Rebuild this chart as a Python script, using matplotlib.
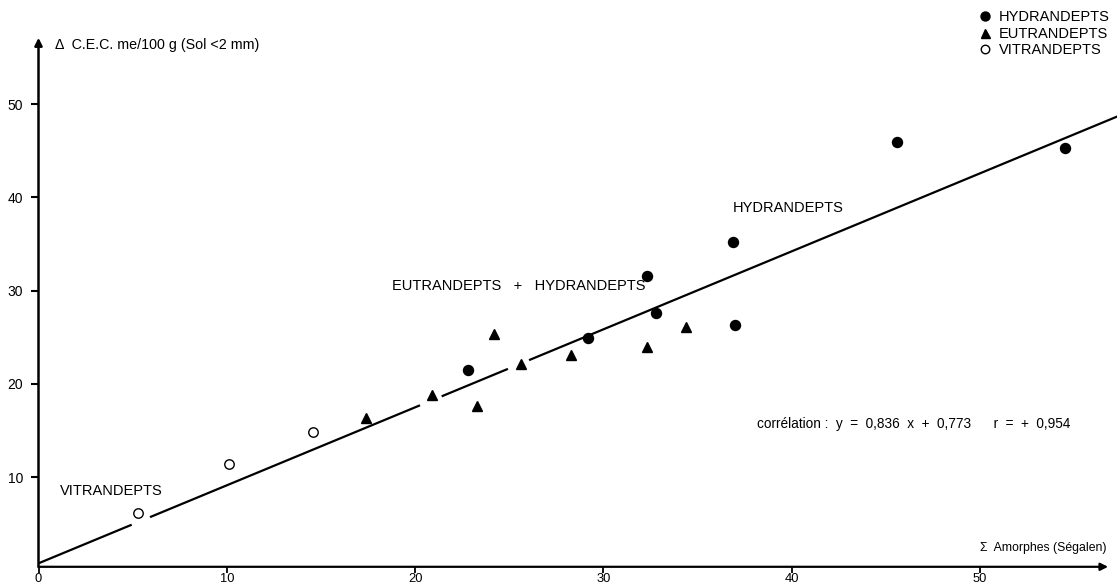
import matplotlib
matplotlib.use("Agg")
import matplotlib.pyplot as plt
import numpy as np

# Sum of amorphous constituents (Ségalen) vs. delta C.E.C. (me/100 g)
hydr_x = [22.8, 29.2, 32.3, 32.8, 36.9, 37.0, 45.6, 54.5]
hydr_y = [21.5, 24.9, 31.6, 27.6, 35.2, 26.3, 45.9, 45.3]

eutr_x = [17.4, 20.9, 23.3, 24.2, 25.6, 28.3, 32.3, 34.4]
eutr_y = [16.3, 18.8, 17.6, 25.4, 22.1, 23.1, 24.0, 26.1]

vitr_x = [5.3, 10.1, 14.6]
vitr_y = [6.2, 11.4, 14.8]

# regression y = a x + b
slope = 0.836
intercept = 0.773
r_value = 0.954

x_ticks = [0, 10, 20, 30, 40, 50]
y_ticks = [10, 20, 30, 40, 50]

# printed breaks in the regression line (x ranges)
line_breaks = [(4.95, 5.92), (20.26, 21.41), (24.93, 26.05)]

FONT = "Liberation Sans"
plt.rcParams["font.family"] = [FONT, "DejaVu Sans"]

fig = plt.figure(figsize=(11.17, 5.85), dpi=100)
ax = fig.add_axes([38.5 / 1117, 18.2 / 585, 1079 / 1117, 529 / 585])
ax.set_xlim(0, 57.3)
ax.set_ylim(0.4, 57.1)

for s in ax.spines.values():
    s.set_visible(False)

# axes drawn as arrows
ax.annotate("", xy=(56.8, 0.4), xytext=(0, 0.4),
            arrowprops=dict(arrowstyle="-|>", lw=1.6, color="black",
                            mutation_scale=11, shrinkA=0, shrinkB=0),
            annotation_clip=False)
ax.annotate("", xy=(0, 57.1), xytext=(0, 0.4),
            arrowprops=dict(arrowstyle="-|>", lw=1.8, color="black",
                            mutation_scale=11, shrinkA=0, shrinkB=0),
            annotation_clip=False)

ax.set_xticks(x_ticks)
ax.set_yticks(y_ticks)
ax.set_xticklabels([str(v) for v in x_ticks])
ax.set_yticklabels([str(v) for v in y_ticks])
ax.tick_params(axis="x", direction="out", length=4.5, width=1.3, pad=0.3,
               labelsize=9.3, color="black")
ax.tick_params(axis="y", direction="out", length=6, width=1.5, pad=5,
               labelsize=10, color="black")

# regression line with small printed gaps
x_end = 57.3
edges = [0.0]
for a, b in line_breaks:
    edges += [a, b]
edges.append(x_end)
for i in range(0, len(edges), 2):
    xs = np.array([edges[i], edges[i + 1]])
    ax.plot(xs, slope * xs + intercept, color="black", lw=1.6,
            solid_capstyle="butt", clip_on=False, zorder=2)

ax.plot(hydr_x, hydr_y, "o", ms=7.2, color="black", mec="black",
        label="HYDRANDEPTS", zorder=3, clip_on=False)
ax.plot(eutr_x, eutr_y, "^", ms=7.2, color="black", mec="black",
        label="EUTRANDEPTS", zorder=3, clip_on=False)
ax.plot(vitr_x, vitr_y, "o", ms=6.8, mfc="white", mec="black", mew=1.0,
        label="VITRANDEPTS", zorder=3, clip_on=False)

leg = fig.legend(loc="upper right", bbox_to_anchor=(1110 / 1117, 1 - 10 / 585),
                 frameon=False, fontsize=10.5, handlelength=0.8,
                 handletextpad=0.6, labelspacing=0.18, borderpad=0,
                 borderaxespad=0, markerscale=0.9)

txt_kw = dict(fontsize=10.5, color="black", va="center")
ax.text(1.14, 8.5, "VITRANDEPTS", ha="left", **txt_kw)
ax.text(18.77, 30.5, "EUTRANDEPTS   +   HYDRANDEPTS", ha="left", **txt_kw)
ax.text(36.88, 38.9, "HYDRANDEPTS", ha="left", **txt_kw)

a_txt = f"{slope:.3f}".replace(".", ",")
b_txt = f"{intercept:.3f}".replace(".", ",")
r_txt = f"{r_value:.3f}".replace(".", ",")
corr = (f"corrélation :  y  =  {a_txt}  x  +  {b_txt}"
        f"      r  =  +  {r_txt}")
ax.text(38.16, 15.7, corr, ha="left", va="center", fontsize=9.8)

ax.text(0.88, 56.3, "Δ  C.E.C. me/100 g (Sol <2 mm)", ha="left", va="center",
        fontsize=10.3, clip_on=False)
ax.text(56.7, 2.4, "Σ  Amorphes (Ségalen)", ha="right", va="center",
        fontsize=8.8, clip_on=False)

fig.savefig("out.png", dpi=100, facecolor="white")
